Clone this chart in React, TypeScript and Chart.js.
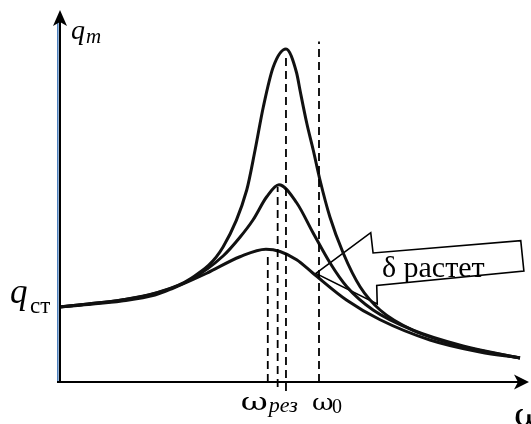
import React, { useEffect, useRef } from 'react';
import { Chart, registerables } from 'chart.js';

Chart.register(...registerables);

// ω / ω0 (x) and q / q_ст (y)
const tallW = [0, 0.112, 0.241, 0.369, 0.504, 0.631, 0.722, 0.754, 0.786, 0.824, 0.873, 0.914, 0.927, 0.953, 0.978, 1.004, 1.042, 1.093, 1.158, 1.235, 1.362, 1.554, 1.773];
const tallQ = [1.0, 1.04, 1.093, 1.183, 1.373, 1.8, 2.56, 3.09, 3.67, 4.2, 4.44, 4.12, 3.89, 3.45, 3.09, 2.69, 2.2, 1.72, 1.27, 0.96, 0.69, 0.47, 0.32];

const midW = [0, 0.112, 0.241, 0.369, 0.504, 0.631, 0.696, 0.746, 0.799, 0.846, 0.914, 0.977, 1.042, 1.107, 1.208, 1.362, 1.554, 1.773];
const midQ = [1.0, 1.04, 1.093, 1.18, 1.36, 1.68, 1.93, 2.16, 2.47, 2.63, 2.39, 1.99, 1.59, 1.27, 0.96, 0.69, 0.48, 0.32];

const lowW = [0, 0.112, 0.241, 0.369, 0.438, 0.568, 0.696, 0.796, 0.85, 0.914, 0.977, 1.107, 1.235, 1.427, 1.619, 1.773];
const lowQ = [1.0, 1.033, 1.08, 1.16, 1.25, 1.45, 1.67, 1.77, 1.74, 1.63, 1.45, 1.09, 0.83, 0.56, 0.4, 0.32];

// resonance frequencies (dashed guides)
const resW = [0.803, 0.841, 0.873];
const resTop = [1.72, 2.6, 4.36];
const resBottom = [0, -0.067, -0.12];
const omega0 = 1.0;
const omega0Top = 4.54;

// callout arrow outline (data units)
const calloutW = [0.988, 1.199, 1.208, 1.776, 1.788, 1.222, 1.224];
const calloutQ = [1.447, 1.991, 1.72, 1.884, 1.48, 1.287, 1.04];
const calloutText = 'δ растет';

const X_MIN = 0;
const X_MAX = 1.8;
const Y_MIN = 0;
const Y_MAX = 4.8;

const toPts = (xs: number[], ys: number[]) => xs.map((x, i) => ({ x, y: ys[i] }));

const serif = '"Liberation Serif", "Times New Roman", serif';
const omegaFont = '"DejaVu Serif", serif';

function wideText(ctx: any, text: string, x: number, y: number, sx: number) {
  ctx.save();
  ctx.translate(x, y);
  ctx.scale(sx, 1);
  ctx.fillText(text, 0, 0);
  ctx.restore();
}

const decor = {
  id: 'decor',
  beforeDatasetsDraw(chart: any) {
    const { ctx, scales } = chart;
    const xs = scales.x;
    const ys = scales.y;
    ctx.save();
    ctx.beginPath();
    calloutW.forEach((w, i) => {
      const px = xs.getPixelForValue(w);
      const py = ys.getPixelForValue(calloutQ[i]);
      if (i === 0) ctx.moveTo(px, py);
      else ctx.lineTo(px, py);
    });
    ctx.closePath();
    ctx.fillStyle = '#ffffff';
    ctx.fill();
    ctx.lineWidth = 1.6;
    ctx.strokeStyle = '#000';
    ctx.lineJoin = 'miter';
    ctx.stroke();
    ctx.fillStyle = '#000';
    ctx.font = `30px ${serif}`;
    ctx.textBaseline = 'alphabetic';
    ctx.fillText(calloutText, xs.getPixelForValue(1.242), ys.getPixelForValue(1.4));
    ctx.restore();
  },
  afterDatasetsDraw(chart: any) {
    const { ctx, scales } = chart;
    const xs = scales.x;
    const ys = scales.y;
    const x0 = xs.getPixelForValue(0);
    const y0 = ys.getPixelForValue(0);
    ctx.save();
    // y axis (blue edge + black line)
    ctx.strokeStyle = '#4f81bd';
    ctx.lineWidth = 1.6;
    ctx.beginPath();
    ctx.moveTo(x0 - 1.2, y0);
    ctx.lineTo(x0 - 1.2, 22);
    ctx.stroke();
    ctx.strokeStyle = '#000';
    ctx.lineWidth = 2;
    ctx.beginPath();
    ctx.moveTo(x0 + 1, y0 + 1);
    ctx.lineTo(x0 + 1, 20);
    ctx.stroke();
    // y arrow head
    ctx.fillStyle = '#000';
    ctx.beginPath();
    ctx.moveTo(x0 + 1, 10);
    ctx.lineTo(x0 + 8, 26);
    ctx.lineTo(x0 + 1, 22);
    ctx.lineTo(x0 - 6, 26);
    ctx.closePath();
    ctx.fill();
    // x axis
    ctx.beginPath();
    ctx.moveTo(x0 - 2, y0);
    ctx.lineTo(520, y0);
    ctx.stroke();
    ctx.beginPath();
    ctx.moveTo(529, y0);
    ctx.lineTo(514, y0 - 7.5);
    ctx.lineTo(518, y0);
    ctx.lineTo(514, y0 + 7.5);
    ctx.closePath();
    ctx.fill();
    ctx.restore();
  },
  afterDraw(chart: any) {
    const { ctx, scales } = chart;
    const xs = scales.x;
    const ys = scales.y;
    const x0 = xs.getPixelForValue(0);
    const y0 = ys.getPixelForValue(0);
    const yq = ys.getPixelForValue(1);
    ctx.save();
    ctx.fillStyle = '#000';
    ctx.textBaseline = 'alphabetic';
    // q_m
    ctx.font = `italic 28px ${serif}`;
    ctx.fillText('q', x0 + 12, 39);
    ctx.font = `italic 21px ${serif}`;
    ctx.fillText('m', x0 + 27, 43);
    // q_ст
    ctx.font = `italic 35px ${serif}`;
    ctx.fillText('q', x0 - 49, yq - 4);
    ctx.font = `23px ${serif}`;
    ctx.fillText('ст', x0 - 29, yq + 6);
    // ω_рез
    const xr = xs.getPixelForValue(resW[0]);
    ctx.font = `24px ${omegaFont}`;
    wideText(ctx, 'ω', xr - 27, y0 + 28, 1.38);
    ctx.font = `italic 22px ${serif}`;
    ctx.fillText('рез', xr + 1, y0 + 30);
    // ω0
    const xo = xs.getPixelForValue(omega0);
    ctx.font = `23px ${omegaFont}`;
    wideText(ctx, 'ω', xo - 7, y0 + 28, 1.15);
    ctx.font = `20px ${serif}`;
    ctx.fillText('0', xo + 13, y0 + 31);
    // ω (axis name)
    ctx.font = `32px ${omegaFont}`;
    wideText(ctx, 'ω', 514, y0 + 44, 1.15);
    ctx.restore();
  },
};

export default function App() {
  const ref = useRef<HTMLCanvasElement | null>(null);
  useEffect(() => {
    if (!ref.current) return;
    const curve = (xs: number[], ys: number[]) => ({
      data: toPts(xs, ys),
      borderColor: '#111',
      borderWidth: 3,
      pointRadius: 0,
      fill: false,
      cubicInterpolationMode: 'monotone' as const,
    });
    const dashed = (x: number, top: number, bottom: number) => ({
      data: [{ x, y: bottom }, { x, y: top }],
      borderColor: '#000',
      borderWidth: 1.8,
      borderDash: [8, 5],
      pointRadius: 0,
      fill: false,
      clip: false as any,
    });
    const datasets: any[] = [
      ...resW.map((w, i) => dashed(w, resTop[i], resBottom[i])),
      dashed(omega0, omega0Top, 0),
      curve(lowW, lowQ),
      curve(midW, midQ),
      curve(tallW, tallQ),
    ];
    const chart = new Chart(ref.current, {
      type: 'line',
      data: { datasets },
      options: {
        animation: false,
        responsive: false,
        events: [],
        layout: { padding: { left: 59, right: 4, top: 22, bottom: 42 } },
        scales: {
          x: { type: 'linear', min: X_MIN, max: X_MAX, display: false },
          y: { type: 'linear', min: Y_MIN, max: Y_MAX, display: false },
        },
        plugins: { legend: { display: false }, tooltip: { enabled: false }, title: { display: false } },
      },
      plugins: [decor],
    });
    return () => chart.destroy();
  }, []);
  return (
    <div style={{ position: 'fixed', left: 0, top: 0, width: 531, height: 424, background: '#fff' }}>
      <canvas ref={ref} width={531} height={424} style={{ width: 531, height: 424, display: 'block' }} />
    </div>
  );
}
